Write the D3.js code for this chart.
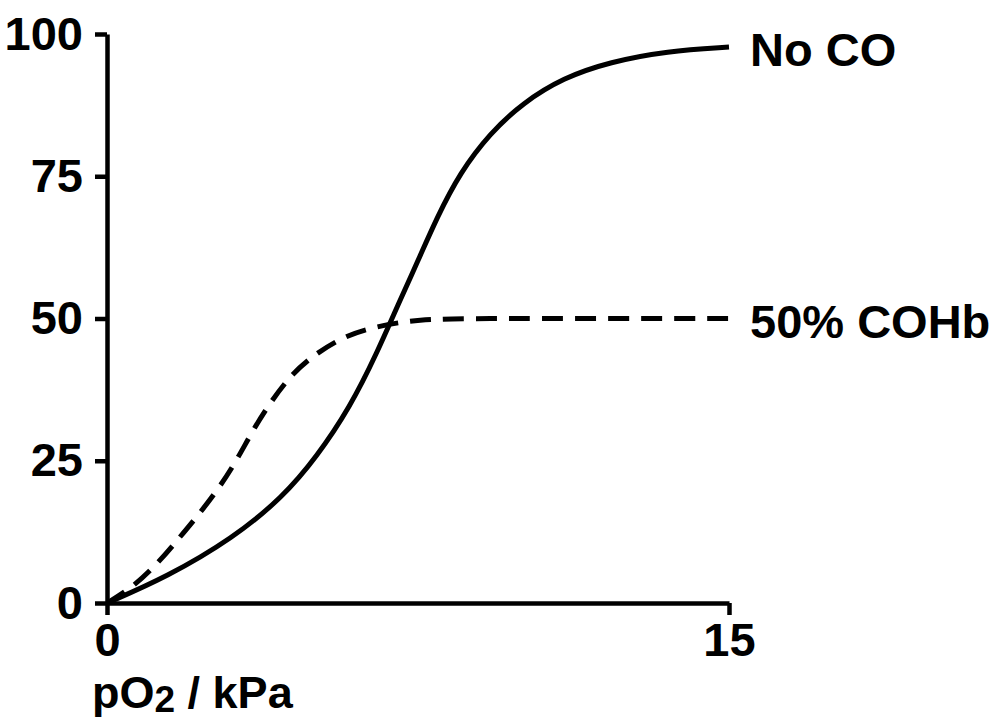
<!DOCTYPE html>
<html>
<head>
    <meta charset="utf-8">
    <script src="https://d3js.org/d3.v7.min.js"></script>
    <style>
        body {
            margin: 0;
            background: #ffffff;
            font-family: "Liberation Sans", Arial, sans-serif;
        }

        text {
            font-weight: 700;
            fill: #000000;
        }

        .axis text {
            font-size: 47px;
            font-family: "Liberation Sans", Arial, sans-serif;
        }

        .axis path,
        .axis line {
            stroke: #000000;
            stroke-width: 4.5;
        }

        text.seriesLabel {
            font-size: 47px;
        }

        text.axisTitle {
            font-size: 45px;
        }

        path.curve {
            fill: none;
            stroke: #000000;
            stroke-width: 5;
        }
    </style>
</head>

<body>
    <div id="chart"></div>
    <script>
        // pO2 (kPa) and saturation (%)
        var noCoX = [0, 1.45, 3.04, 4.24, 5.06, 5.86, 6.51, 7.07, 7.48, 7.96, 8.51, 9.24, 10.03, 11.0, 12.13, 13.5, 15];
        var noCoY = [0, 4.6, 11.4, 18.6, 25.7, 34.4, 43.9, 53.3, 59.8, 67.8, 75.6, 82.6, 87.9, 92.3, 95.1, 97.0, 97.7];

        var cohbX = [0, 0.63, 1.23, 1.76, 2.24, 2.72, 3.13, 3.52, 3.93, 4.34, 4.82, 5.62, 6.41, 7.48, 9, 12, 15];
        var cohbY = [0, 2.8, 7.0, 11.6, 15.8, 20.4, 25.1, 30.4, 35.1, 39.2, 42.7, 46.6, 48.5, 49.9, 50, 50, 50];

        var seriesNames = ["No CO", "50% COHb"];
        var yTicks = [0, 25, 50, 75, 100];
        var xTicks = [0, 15];

        var width = 997;
        var height = 720;
        const margin = {
            top: 34,
            right: 268,
            bottom: 117,
            left: 107
        };

        var svg = d3.select("#chart").append("svg")
            .attr("width", width)
            .attr("height", height);

        let x = d3.scaleLinear()
            .domain([0, 15])
            .range([margin.left, width - margin.right]);

        let y = d3.scaleLinear()
            .domain([0, 100])
            .range([height - margin.bottom, margin.top]);

        svg.append("g")
            .attr("class", "axis yAxis")
            .attr("transform", `translate(${margin.left}, 0)`)
            .call(d3.axisLeft(y)
                .tickValues(yTicks)
                .tickSize(12)
                .tickSizeOuter(0)
                .tickPadding(12)
                .tickFormat(d3.format("d")));

        svg.append("g")
            .attr("class", "axis xAxis")
            .attr("transform", `translate(0, ${height - margin.bottom})`)
            .call(d3.axisBottom(x)
                .tickValues(xTicks)
                .tickSize(12)
                .tickSizeOuter(0)
                .tickPadding(8)
                .tickFormat(d3.format("d")));

        svg.selectAll(".axis text").attr("fill", "#000000");

        let line = d3.line()
            .x(d => x(d[0]))
            .y(d => y(d[1]))
            .curve(d3.curveBasis);

        let series = [
            { name: seriesNames[0], points: d3.zip(noCoX, noCoY), dash: null },
            { name: seriesNames[1], points: d3.zip(cohbX, cohbY), dash: "21,12" }
        ];

        svg.selectAll("path.curve")
            .data(series)
            .enter()
            .append("path")
            .attr("class", "curve")
            .attr("d", d => line(d.points))
            .style("stroke-dasharray", d => d.dash);

        svg.selectAll("text.seriesLabel")
            .data(series)
            .enter()
            .append("text")
            .attr("class", "seriesLabel")
            .attr("x", d => x(d.points[d.points.length - 1][0]) + 21)
            .attr("y", d => y(d.points[d.points.length - 1][1]))
            .attr("dy", "0.41em")
            .text(d => d.name);

        // axis title with subscript
        let title = svg.append("text")
            .attr("class", "axisTitle")
            .attr("x", 92)
            .attr("y", 708);
        title.append("tspan").text("pO");
        title.append("tspan")
            .attr("dy", 4)
            .style("font-size", "37px")
            .text("2");
        title.append("tspan")
            .attr("dy", -4)
            .text(" / kPa");
    </script>
</body>
</html>
